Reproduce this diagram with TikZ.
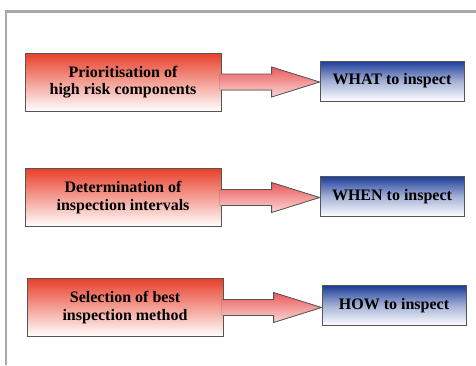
\documentclass[tikz,border=0pt]{standalone}
\usepackage{fontspec}
\setmainfont{Liberation Serif}
\usetikzlibrary{calc}
\definecolor{redtop}{HTML}{E8402B}
\definecolor{bluetop}{HTML}{1C3C98}
\definecolor{arrtop}{HTML}{EC5A5A}
\definecolor{arrbot}{HTML}{FAD6D6}
\definecolor{framegray}{HTML}{A8A8A8}
\definecolor{edgegray}{HTML}{555555}
\tikzset{
  redbox/.style={draw=edgegray, line width=0.8pt, top color=redtop, bottom color=white,
    minimum width=196pt, minimum height=58pt, align=center, inner sep=0pt,
    font=\bfseries\fontsize{16}{17.5}\selectfont},
  bluebox/.style={draw=edgegray, line width=0.8pt, top color=bluetop, bottom color=white,
    middle color=bluetop!40!white,
    minimum width=144pt, minimum height=40pt, align=center, inner sep=0pt,
    font=\bfseries\fontsize{16}{17.5}\selectfont},
  arrowfill/.style={top color=arrtop, bottom color=arrbot, draw=none},
  arrowline/.style={draw=edgegray, line width=0.8pt, line join=miter},
  framestyle/.style={draw=framegray, line width=2.5pt}
}
\newcommand{\fatarrow}[2]{%
  \fill[arrowfill] ($(#1.east)+(-1.5,-8)$) -- ($(#1.east -| #2.west)+(-48,-8)$) -- ($(#1.east -| #2.west)+(-48,-15)$) -- (#1.east -| #2.west) -- ($(#1.east -| #2.west)+(-48,15)$) -- ($(#1.east -| #2.west)+(-48,8)$) -- ($(#1.east)+(-1.5,8)$) -- cycle;
  \draw[arrowline] ($(#1.east)+(0,-8)$) -- ($(#1.east -| #2.west)+(-48,-8)$) -- ($(#1.east -| #2.west)+(-48,-15)$) -- (#1.east -| #2.west) -- ($(#1.east -| #2.west)+(-48,15)$) -- ($(#1.east -| #2.west)+(-48,8)$) -- ($(#1.east)+(0,8)$);
}
\begin{document}
\begin{tikzpicture}[x=1pt,y=-1pt]
\useasboundingbox (0,0) rectangle (476,365);
\fill[white] (0,0) rectangle (476,365);
\draw[framestyle] (6,365) -- (6,11.5) -- (476,11.5);

\node[redbox] (r1) at (123,82) {Prioritisation of\\high risk components};
\node[bluebox] (b1) at (392,81) {WHAT to inspect};
\node[redbox] (r2) at (123,197.5) {Determination of\\inspection intervals};
\node[bluebox] (b2) at (392,196.5) {WHEN to inspect};
\node[redbox] (r3) at (125,307.5) {Selection of best\\inspection method};
\node[bluebox] (b3) at (394,305.5) {HOW to inspect};

\fatarrow{r1}{b1}
\fatarrow{r2}{b2}
\fatarrow{r3}{b3}
\end{tikzpicture}
\end{document}
